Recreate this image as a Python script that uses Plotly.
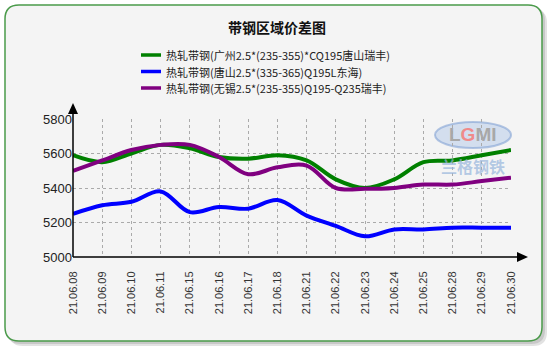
import plotly.graph_objects as go

categories = ["21.06.08", "21.06.09", "21.06.10", "21.06.11", "21.06.15", "21.06.16",
              "21.06.17", "21.06.18", "21.06.21", "21.06.22", "21.06.23", "21.06.24",
              "21.06.25", "21.06.28", "21.06.29", "21.06.30"]
guangzhou = [5590, 5550, 5600, 5650, 5630, 5580, 5570, 5590, 5560, 5450, 5400, 5450,
             5550, 5560, 5590, 5620]
tangshan = [5250, 5300, 5320, 5380, 5260, 5290, 5280, 5330, 5240, 5180, 5120, 5160,
            5160, 5170, 5170, 5170]
wuxi = [5500, 5560, 5620, 5650, 5650, 5580, 5480, 5520, 5530, 5400, 5395, 5400,
        5420, 5420, 5440, 5460]
series_names = ["热轧带钢(广州2.5*(235-355)*CQ195唐山瑞丰)",
                "热轧带钢(唐山2.5*(335-365)Q195L东海)",
                "热轧带钢(无锡2.5*(235-355)Q195-Q235瑞丰)"]
series_colors = ["#008000", "#0000ff", "#800080"]
y_ticks = [5000, 5200, 5400, 5600, 5800]

W, H = 554, 351
L, R, T, B = 73, 511, 119, 257  # plot area pixel bounds


def px(x):
    return (x - L) / (R - L)


def py(y):
    return (B - y) / (B - T)


def rrect(x0, y0, x1, y1, r):
    return (f"M {px(x0 + r)} {py(y0)} L {px(x1 - r)} {py(y0)} "
            f"Q {px(x1)} {py(y0)} {px(x1)} {py(y0 + r)} "
            f"L {px(x1)} {py(y1 - r)} Q {px(x1)} {py(y1)} {px(x1 - r)} {py(y1)} "
            f"L {px(x0 + r)} {py(y1)} Q {px(x0)} {py(y1)} {px(x0)} {py(y1 - r)} "
            f"L {px(x0)} {py(y0 + r)} Q {px(x0)} {py(y0)} {px(x0 + r)} {py(y0)} Z")


fig = go.Figure()
for name, vals, col in zip(series_names, [guangzhou, tangshan, wuxi], series_colors):
    fig.add_trace(go.Scatter(x=categories, y=vals, name=name, mode="lines", showlegend=False,
                             line=dict(color=col, width=4, shape="spline", smoothing=1)))

shapes = [
    dict(type="path", xref="paper", yref="paper", path=rrect(9, 9, 547, 346, 14),
         fillcolor="#e2e2e2", line=dict(width=0), layer="below"),
    dict(type="path", xref="paper", yref="paper", path=rrect(7, 7, 545, 344, 14),
         fillcolor="#c8c8c8", line=dict(width=0), layer="below"),
    dict(type="path", xref="paper", yref="paper", path=rrect(5, 5, 542, 341, 14),
         fillcolor="#f4f4f4", line=dict(color="#4a9a4a", width=1.5), layer="below"),
    # axis extensions + arrows
    dict(type="line", xref="paper", yref="paper", x0=px(73), x1=px(73), y0=py(257), y1=py(112),
         line=dict(color="black", width=1.5)),
    dict(type="line", xref="paper", yref="paper", x0=px(73), x1=px(518), y0=py(257), y1=py(257),
         line=dict(color="black", width=1.5)),
    dict(type="path", xref="paper", yref="paper",
         path=f"M {px(73)} {py(103)} L {px(68)} {py(114)} L {px(78)} {py(114)} Z",
         fillcolor="black", line=dict(width=0)),
    dict(type="path", xref="paper", yref="paper",
         path=f"M {px(528)} {py(257)} L {px(517)} {py(252)} L {px(517)} {py(262)} Z",
         fillcolor="black", line=dict(width=0)),
    # watermark ellipse
    dict(type="circle", xref="paper", yref="paper", x0=px(435), x1=px(511), y0=py(122), y1=py(148),
         fillcolor="rgba(150,180,225,0.35)", line=dict(color="rgba(120,155,210,0.55)", width=2),
         layer="below"),
]

annotations = [
    dict(text="<b>带钢区域价差图</b>", xref="paper", yref="paper", x=px(277), y=py(27),
         xanchor="center", yanchor="middle", showarrow=False,
         font=dict(size=14, color="#111", family="Noto Sans CJK SC")),
    dict(text="<b>L<span style='color:#f08a8a'>G</span>MI</b>", xref="paper", yref="paper",
         x=px(473), y=py(134), xanchor="center", yanchor="middle", showarrow=False,
         font=dict(size=19, color="#a8a8a8", family="Liberation Sans")),
    dict(text="<b>兰格钢铁</b>", xref="paper", yref="paper", x=px(473), y=py(166),
         xanchor="center", yanchor="middle", showarrow=False,
         font=dict(size=16, color="rgba(150,180,220,0.7)", family="Noto Sans CJK SC")),
]

# legend (drawn manually to match the compact row spacing)
leg_font = 11
leg_gap = 16.5
leg_mid = 71.5
legend_rows = [leg_mid - leg_gap, leg_mid, leg_mid + leg_gap]
for name, col, yy in zip(series_names, series_colors, legend_rows):
    shapes.append(dict(type="line", xref="paper", yref="paper", x0=px(141), x1=px(161),
                       y0=py(yy), y1=py(yy), line=dict(color=col, width=3.5)))
    annotations.append(dict(text=name, xref="paper", yref="paper",
                            x=px(165), y=py(yy), xanchor="left", yanchor="middle",
                            align="left", showarrow=False, borderpad=0,
                            font=dict(size=leg_font, color="#222", family="Noto Sans CJK SC")))

fig.update_layout(
    width=W, height=H,
    margin=dict(l=L, r=W - R, t=T, b=H - B, pad=0),
    paper_bgcolor="white", plot_bgcolor="rgba(0,0,0,0)",
    showlegend=False,
    shapes=shapes, annotations=annotations,
    xaxis=dict(type="category", range=[0, 15], showgrid=True, gridcolor="#aaaaaa", griddash="dot",
               gridwidth=1, tickangle=-90, ticks="outside", ticklen=9, tickcolor="rgba(0,0,0,0)",
               tickfont=dict(size=11, color="#333", family="Liberation Sans"),
               showline=False, zeroline=False),
    yaxis=dict(range=[5000, 5800], tickvals=y_ticks, showgrid=True, gridcolor="#aaaaaa",
               griddash="dot", gridwidth=1, ticks="", showline=False, zeroline=False,
               tickfont=dict(size=13, color="#222", family="Liberation Sans")),
)

fig.write_html("out.html")
